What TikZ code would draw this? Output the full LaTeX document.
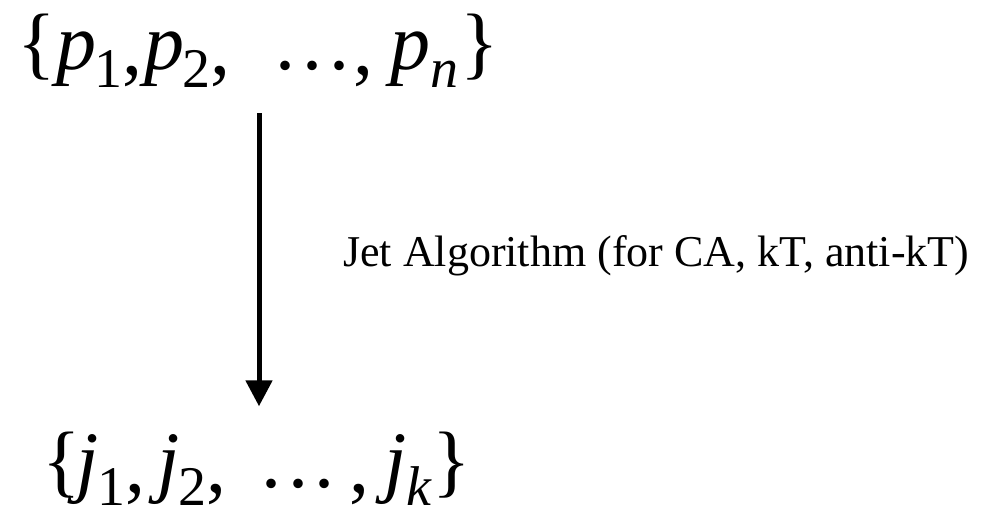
\documentclass[tikz,border=0pt]{standalone}
\usepackage{fontspec}
\setmainfont{Liberation Serif}
\usetikzlibrary{arrows.meta}
\newcommand\lowsub[1]{\raisebox{-18pt}{\fontsize{56}{60}\selectfont #1}}
\newcommand\lowcomma{\raisebox{-5pt}{,}}
\newcommand\threedots{.\kern7pt.\kern7pt.}
\tikzset{
  settext/.style={inner sep=0pt, anchor=base west, font=\fontsize{80}{90}\selectfont},
  lbl/.style={inner sep=0pt, anchor=base west, font=\fontsize{44}{48}\selectfont},
  arr/.style={line width=5pt, -{Triangle[width=26pt,length=26pt]}}
}
\begin{document}
\begin{tikzpicture}[x=1pt,y=1pt]
\useasboundingbox (0,0) rectangle (984,523);
\node[settext] (top) at (17,453) {\{\kern0.6pt\textit{p}\kern-2pt\lowsub{1}\lowcomma\kern2pt\textit{p}\kern-2pt\lowsub{2}\lowcomma\kern45pt\threedots\kern4pt\lowcomma\kern17pt\textit{p}\lowsub{\textit{n}}\kern2pt\}};
\node[settext] (bot) at (42,36) {\{\kern-4pt\textit{j}\kern-1pt\lowsub{1}\lowcomma\kern12pt\textit{j}\kern-2pt\lowsub{2}\lowcomma\kern35pt\threedots\kern14pt\lowcomma\kern15pt\textit{j}\lowsub{\textit{k}}\kern1pt\}};
\node[lbl] (lab) at (343,257) {Jet Algorithm (for CA, kT, anti-kT)};
\coordinate (ax) at (259,0);
\draw[arr] ([yshift=-25pt]top.south -| ax) -- ([yshift=25pt]bot.north -| ax);
\end{tikzpicture}
\end{document}
